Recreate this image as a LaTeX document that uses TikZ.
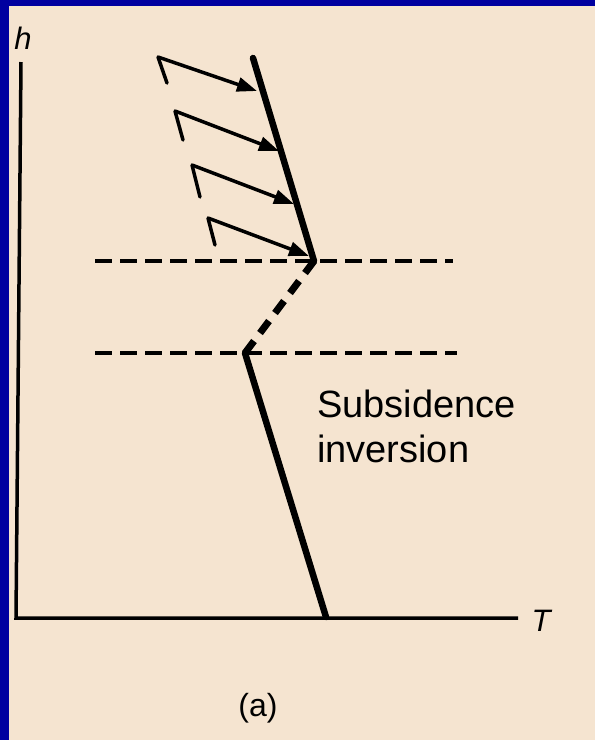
\documentclass[tikz,border=0pt]{standalone}
\usepackage{fontspec}
\setmainfont{Liberation Sans}
\usetikzlibrary{arrows.meta}
\definecolor{frameblue}{RGB}{0,0,160}
\definecolor{paper}{RGB}{245,228,208}
\tikzset{
  axisline/.style={line width=3.5pt},
  profile/.style={line width=6.5pt, line cap=round, line join=round},
  profdash/.style={line width=7pt, dash pattern=on 15pt off 10pt},
  levelline/.style={line width=3.5pt, dash pattern=on 17pt off 8pt},
  wind/.style={line width=3.5pt, -{Triangle[length=20pt,width=14pt]}},
  barb/.style={line width=3.5pt, line cap=round},
  lbl/.style={inner sep=0pt, font=\fontsize{38}{45}\selectfont}
}
\begin{document}
\begin{tikzpicture}[x=1pt,y=-1pt]
\useasboundingbox (0,0) rectangle (595,740);
\fill[frameblue] (0,0) rectangle (595,740);
\fill[paper] (9,6) rectangle (595,740);
% axes
\coordinate (ytop) at (21,62);
\coordinate (origin) at (16,618);
\coordinate (xend) at (518,618);
\draw[axisline] (ytop) -- (origin) -- (xend);
\node[lbl, font=\fontsize{31}{31}\selectfont\itshape] (hlab) at (23,38) {h};
\node[lbl, font=\fontsize{31}{31}\selectfont\itshape] (tlab) at (541,621) {T};
% level lines
\coordinate (u1) at (95,261);
\coordinate (u2) at (453,261);
\coordinate (l1) at (95,353);
\coordinate (l2) at (457,353);
\draw[levelline] (u1) -- (u2);
\draw[levelline] (l1) -- (l2);
% profile
\coordinate (p0) at (253,58);
\coordinate (p1) at (314,261);
\coordinate (p2) at (245,353);
\coordinate (p3) at (326,617);
\draw[profile] (p0) -- (p1);
\draw[profdash] (p1) -- (p2);
\draw[profile] (p2) -- (p3);
% wind arrows
\foreach \i/\tx/\ty/\hx/\hy/\bx/\by in {1/158/57/257/91/167/83, 2/175/111/279/151/183/140, 3/192/165/294/204/200/197, 4/208/218/309/256/215/245}{
  \coordinate (wt\i) at (\tx,\ty);
  \coordinate (wh\i) at (\hx,\hy);
  \coordinate (wb\i) at (\bx,\by);
  \draw[wind] (wt\i) -- (wh\i);
  \draw[barb] (wt\i) -- (wb\i);
}
% labels
\node[lbl, anchor=base west] (sub1) at (317,417) {Subsidence};
\node[lbl, anchor=base west] (sub2) at (317,462) {inversion};
\node[lbl, font=\fontsize{32}{32}\selectfont] (alab) at (258,708) {(a)};
\end{tikzpicture}
\end{document}
